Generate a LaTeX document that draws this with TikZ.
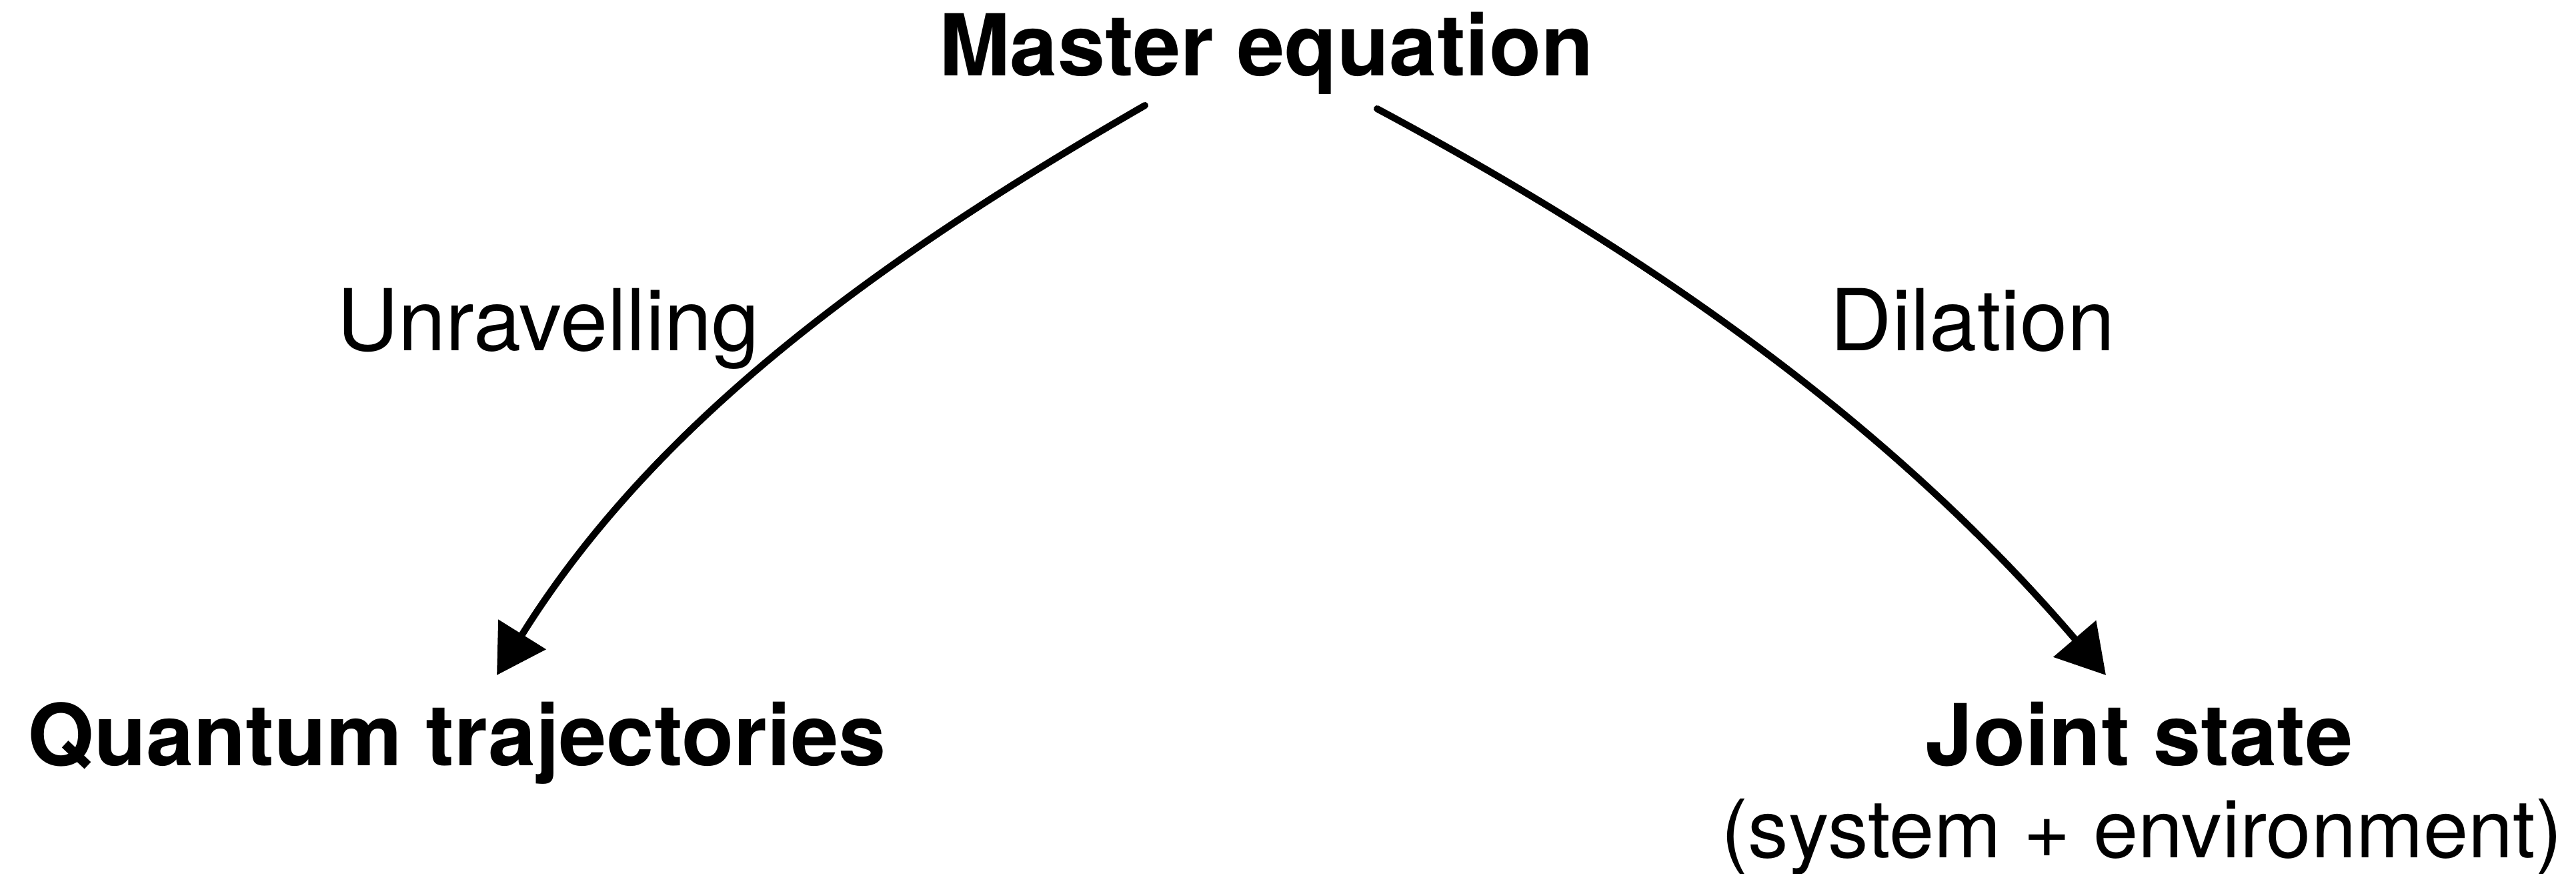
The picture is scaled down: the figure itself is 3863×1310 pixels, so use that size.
\documentclass[tikz,border=0pt]{standalone}
\usepackage{fontspec}
\setmainfont{TeX Gyre Heros}
\usetikzlibrary{arrows.meta}
\begin{document}
\begin{tikzpicture}[x=0.01cm,y=-0.01cm,
  bigbold/.style={font=\fontsize{36.4pt}{39pt}\selectfont\bfseries, inner sep=0pt, anchor=base},
  plainlab/.style={font=\fontsize{36.4pt}{39pt}\selectfont, inner sep=0pt, anchor=base},
  smalllab/.style={font=\fontsize{34.4pt}{37pt}\selectfont, inner sep=0pt, anchor=base},
  sketcharrow/.style={line width=2.9pt, line cap=round, black,
     -{Triangle[length=0.72cm,width=0.82cm]}}]
\useasboundingbox (0,0) rectangle (3863,1310);
% nodes
\node[bigbold] (master) at (1899,114) {Master equation};
\node[bigbold] (quantum) at (685,1148) {Quantum trajectories};
\node[bigbold] (joint) at (3208,1148) {Joint state};
\node[smalllab] (sysenv) at (3212,1285) {(system + environment)};
\node[plainlab] (unrav) at (822,526) {Unravelling};
\node[plainlab] (dil) at (2958,526) {Dilation};
% arrow end points
\coordinate (ls) at (1717,158);
\coordinate (l1) at (1325,384);
\coordinate (l2) at (985,627);
\coordinate (lt) at (745,1012);
\coordinate (rs) at (2065,163);
\coordinate (r1) at (2491,391);
\coordinate (r2) at (2843,644);
\coordinate (rt) at (3158,1012);
% arrows
\draw[sketcharrow] (ls) .. controls (l1) and (l2) .. (lt);
\draw[sketcharrow] (rs) .. controls (r1) and (r2) .. (rt);
\end{tikzpicture}
\end{document}
